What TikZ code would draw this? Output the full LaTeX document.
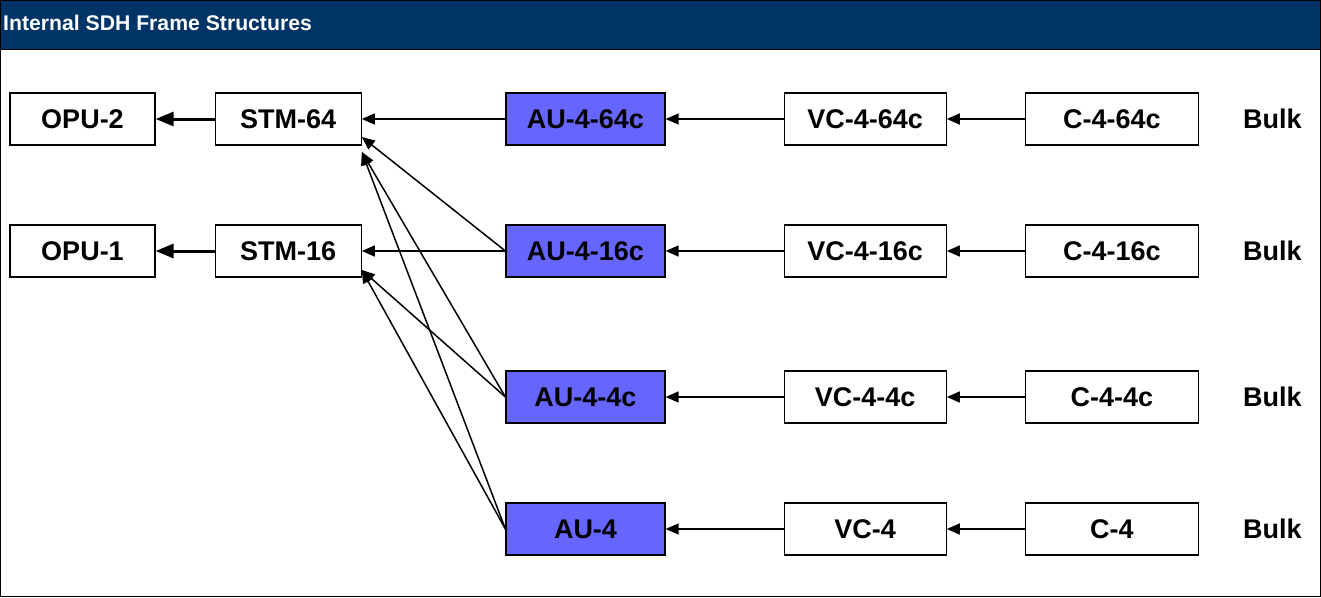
\documentclass[tikz,border=0pt]{standalone}
\usepackage{fontspec}
\setmainfont{Liberation Sans}
\usepackage{xcolor}
\usetikzlibrary{arrows.meta,positioning}
\definecolor{hdrblue}{RGB}{0,51,102}
\definecolor{aublue}{RGB}{102,102,255}

\begin{document}
\begin{tikzpicture}[x=1pt, y=-1pt,
      box/.style={draw, line width=1.2pt, minimum height=52pt, inner sep=0pt, font=\fontsize{27}{30}\selectfont\bfseries},
      au/.style={box, fill=aublue},
      bulk/.style={anchor=west, inner sep=0pt, font=\fontsize{27}{30}\selectfont\bfseries},
      arr/.style={-{Triangle[length=13pt,width=11pt]}, line width=1.5pt},
      big/.style={-{Triangle[length=18pt,width=14pt]}, line width=3pt}]
    \useasboundingbox (0,0) rectangle (1321,597);
    \fill[hdrblue] (0,0) rectangle (1321,49);
    \draw[line width=1pt] (0,49) -- (1321,49);
    \draw[line width=1pt] (0.5,0.5) rectangle (1320.5,596.5);
    \node[anchor=west, inner sep=0pt, text=white, font=\fontsize{21.2}{24}\selectfont\bfseries] (title) at (3,23) {Internal SDH Frame Structures};
    % output side
    \node[box, minimum width=145pt] (opu2) at (82.5,119) {OPU-2};
    \node[box, minimum width=146pt, right=59pt of opu2] (stm64) {STM-64};
    \node[box, minimum width=145pt] (opu1) at (82.5,251) {OPU-1};
    \node[box, minimum width=146pt, right=59pt of opu1] (stm16) {STM-16};
    % AU chains
    \node[au, minimum width=159pt] (au64) at (585.5,119) {AU-4-64c};
    \node[box, minimum width=162pt, right=118pt of au64] (vc64) {VC-4-64c};
    \node[box, minimum width=173pt, right=78pt of vc64] (c64) {C-4-64c};
    \node[bulk, right=44pt of c64] (bulk64) {Bulk};
    \node[au, minimum width=159pt] (au16) at (585.5,251) {AU-4-16c};
    \node[box, minimum width=162pt, right=118pt of au16] (vc16) {VC-4-16c};
    \node[box, minimum width=173pt, right=78pt of vc16] (c16) {C-4-16c};
    \node[bulk, right=44pt of c16] (bulk16) {Bulk};
    \node[au, minimum width=159pt] (au4c) at (585.5,397) {AU-4-4c};
    \node[box, minimum width=162pt, right=118pt of au4c] (vc4c) {VC-4-4c};
    \node[box, minimum width=173pt, right=78pt of vc4c] (c4c) {C-4-4c};
    \node[bulk, right=44pt of c4c] (bulk4c) {Bulk};
    \node[au, minimum width=159pt] (au4) at (585.5,529) {AU-4};
    \node[box, minimum width=162pt, right=118pt of au4] (vc4) {VC-4};
    \node[box, minimum width=173pt, right=78pt of vc4] (c4) {C-4};
    \node[bulk, right=44pt of c4] (bulk4) {Bulk};
    % connectors
    \draw[big] (stm64) -- (opu2); \draw[big] (stm16) -- (opu1);
    \draw[arr] (c64) -- (vc64); \draw[arr] (vc64) -- (au64); \draw[arr] (au64) -- (stm64);
    \draw[arr] (c16) -- (vc16); \draw[arr] (vc16) -- (au16); \draw[arr] (au16) -- (stm16);
    \draw[arr] (c4c) -- (vc4c); \draw[arr] (vc4c) -- (au4c);
    \draw[arr] (c4) -- (vc4); \draw[arr] (vc4) -- (au4);
    \draw[arr] (au16.west) -- ([yshift=-18pt]stm64.east);
    \draw[arr] (au4c.west) -- ([yshift=-33pt]stm64.east);
    \draw[arr] (au4.west) -- ([yshift=-33pt]stm64.east);
    \draw[arr] (au4c.west) -- ([yshift=-19pt]stm16.east);
    \draw[arr] (au4.west) -- ([yshift=-19pt]stm16.east);
  \end{tikzpicture}
\end{document}
